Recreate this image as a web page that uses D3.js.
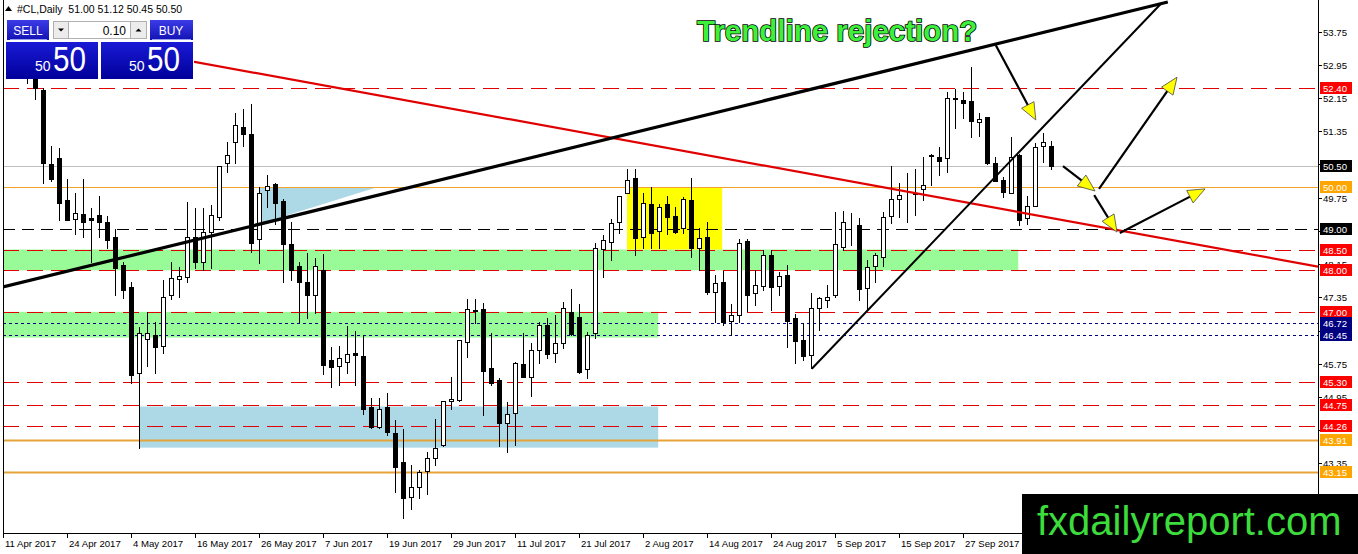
<!DOCTYPE html>
<html><head><meta charset="utf-8">
<script src="https://cdn.jsdelivr.net/npm/d3@7"></script>
<style>
html,body{margin:0;padding:0;background:#fff;overflow:hidden}
svg{display:block}
text{font-family:"Liberation Sans",Arial,sans-serif}
</style></head><body>
<svg id="c" width="1358" height="554"></svg>
<script>
// ---------- DATA ----------
const symbolHeader = "#CL,Daily  51.00 51.12 50.45 50.50";
const open  = [53.08,53.30,53.05,53.20,52.65,52.34,50.56,50.70,49.70,49.24,49.36,49.27,49.33,49.16,48.80,48.13,47.60,45.53,46.35,46.45,46.18,47.40,47.80,47.85,48.80,48.20,48.92,49.28,50.58,51.10,51.45,51.28,48.76,49.93,50.08,49.67,48.63,48.10,47.72,47.40,48.00,45.83,45.70,45.78,46.00,45.93,44.70,44.23,44.70,44.08,43.38,42.55,42.78,43.17,43.48,43.80,44.85,44.87,46.27,47.03,47.07,45.65,45.35,44.32,44.56,45.75,45.43,46.08,46.68,46.00,46.25,47.00,46.87,45.62,46.50,48.52,48.68,49.17,49.85,50.22,48.80,49.60,48.95,49.60,49.31,49.02,49.69,48.54,48.80,47.48,47.72,46.78,46.92,48.70,47.46,47.62,48.37,47.62,47.89,46.85,46.32,45.96,47.09,47.29,47.41,48.56,49.15,49.10,47.58,48.10,48.32,49.31,49.72,49.88,49.85,49.95,50.76,50.73,50.70,52.14,52.10,52.08,51.57,51.69,50.58,50.17,49.87,50.78,49.26,49.55,51.00,51.00];
const high  = [53.45,53.76,53.50,53.30,52.85,52.40,51.00,50.94,50.20,49.86,50.20,49.50,49.80,49.30,49.00,48.20,47.72,46.64,47.00,46.75,47.77,48.20,48.07,49.65,49.50,49.50,49.57,50.52,51.10,51.78,51.88,52.00,50.00,50.30,50.10,49.72,49.17,48.20,48.42,48.30,48.40,46.15,46.18,46.67,46.55,46.44,44.93,44.93,45.05,44.40,44.17,43.31,43.20,43.63,44.42,44.85,45.44,46.32,47.31,47.31,47.22,46.50,45.40,44.83,45.80,46.50,46.25,46.75,46.85,46.92,47.24,47.55,47.20,46.52,48.65,48.85,49.24,49.80,50.44,50.44,49.86,50.00,49.60,49.78,49.52,49.76,50.22,49.02,49.17,47.89,47.98,47.19,48.76,48.76,48.00,48.49,48.49,47.96,48.13,46.95,46.73,47.45,47.36,47.65,49.40,49.43,49.38,49.26,48.25,48.42,49.40,50.51,50.10,50.34,50.44,50.73,50.80,50.97,52.30,52.37,52.30,52.90,51.79,51.69,50.73,50.24,51.21,50.80,49.80,51.06,51.30,51.12];
const low   = [52.82,53.00,52.90,52.50,52.12,50.10,50.15,49.21,49.20,48.87,48.80,48.20,48.80,48.54,47.40,47.33,45.28,43.73,45.70,45.53,46.01,47.30,47.35,47.72,48.05,48.00,48.05,49.20,50.37,50.58,51.00,48.44,48.17,49.52,49.12,47.72,47.76,46.75,46.85,46.97,45.50,45.20,45.23,45.53,45.23,44.54,44.20,44.20,44.03,42.66,42.04,42.25,42.52,42.62,43.31,43.78,44.66,44.85,45.92,46.73,44.52,45.23,43.77,43.63,43.80,45.43,44.97,45.77,45.88,45.80,46.13,46.45,45.53,45.40,46.37,47.84,48.25,48.90,49.85,48.37,48.54,48.54,48.54,48.88,48.90,48.90,48.32,48.00,47.43,46.76,46.68,46.44,46.76,47.02,47.17,47.53,47.05,47.41,46.15,45.77,45.84,45.65,46.56,47.12,47.36,48.49,48.61,47.29,47.07,47.72,48.10,49.14,49.29,49.16,49.33,49.69,50.05,50.30,50.36,51.42,51.67,51.21,51.24,50.56,50.15,49.77,49.86,49.10,49.12,49.55,50.60,50.45];
const close = [53.40,53.11,53.18,52.65,52.40,50.58,50.20,49.62,49.20,49.38,49.16,49.22,49.16,48.73,48.05,47.53,45.48,46.49,46.49,46.15,47.36,47.82,47.86,48.80,48.20,48.93,49.33,50.51,50.78,51.50,51.28,48.66,49.85,50.03,49.62,48.63,48.00,47.72,47.40,48.10,45.72,45.67,45.90,45.98,45.95,44.66,44.23,44.66,44.10,43.27,42.52,42.78,43.15,43.48,43.72,44.85,44.90,46.32,47.07,47.05,45.58,45.28,44.32,44.54,45.77,45.43,46.08,46.68,45.98,46.25,47.09,46.47,45.55,46.45,48.53,48.72,49.14,49.79,50.17,48.78,49.62,48.90,49.53,49.28,48.92,49.72,48.54,48.78,47.48,47.70,46.76,46.92,48.66,47.41,47.65,48.37,47.60,47.87,46.78,46.30,45.93,47.09,47.33,47.36,48.64,49.17,49.13,47.55,48.08,48.37,49.29,49.72,49.82,49.89,49.84,50.05,50.78,50.63,52.15,52.12,52.03,51.60,51.64,50.58,50.15,49.89,50.73,49.20,49.56,50.97,51.10,50.50];

const dateLabels = ["11 Apr 2017","24 Apr 2017","4 May 2017","16 May 2017","26 May 2017","7 Jun 2017","19 Jun 2017","29 Jun 2017","11 Jul 2017","21 Jul 2017","2 Aug 2017","14 Aug 2017","24 Aug 2017","5 Sep 2017","15 Sep 2017","27 Sep 2017"];
const dateLabelBars = [0,8,16,24,32,40,48,56,64,72,80,88,96,104,112,120];
const priceTicks = [53.75,52.95,52.15,51.35,50.55,49.75,48.95,48.15,47.35,46.55,45.75,44.95,44.15,43.35,42.55];

const redLevels = [52.40,48.50,48.00,47.00,45.30,44.75,44.26];
const orangeLevels = [43.91,43.15];
const orangeThinLevel = [50.00];
const blackDashLevel = [49.00];
const navyLevels = [46.72,46.45];
const bidLevel = [50.50];

// zones: [barStart, barEnd, priceTop, priceBottom]
const greenZones = [[0,126.9,48.50,48.00],[0,81.9,47.00,46.38]];
const blueZone = [17,81.9,44.72,43.73];
const yellowZone = [78,89.9,50.00,48.50];
const blueTriangle = [[32.1,50.00],[46.75,50.00],[32.1,49.12]];

// trendlines: [bar, price] pairs
const thickTrend = [[0,47.60],[145.6,54.46]];
const thinTrend = [[101.1,45.63],[144.8,54.43]];
const redTrend = [[0,53.86],[164.375,48.09]];
const arrows = [
  [[124.1,53.42],[129.1,51.62]],
  [[132.5,50.51],[136.5,49.91]],
  [[137.0,49.96],[146.75,52.65]],
  [[136.4,49.81],[139.25,48.92]],
  [[139.6,48.90],[150.25,49.96]]
];
const annotation = "Trendline rejection?";
const watermark = "fxdailyreport.com";

// ---------- SCALES ----------
const svg = d3.select("#c");
const x = d3.scaleLinear().domain([0,164.375]).range([3,1318]);
const y = d3.scaleLinear().domain([41.6744,54.5085]).range([533,0]);
const L = 3, R = 1318, B = 533;

const defs = svg.append("defs");
defs.append("clipPath").attr("id","plot").append("rect").attr("x",L).attr("y",0).attr("width",R-L).attr("height",B);
function grad(id,c1,c2){
  const g = defs.append("linearGradient").attr("id",id).attr("x1",0).attr("y1",0).attr("x2",0).attr("y2",1);
  g.append("stop").attr("offset","0%").attr("stop-color",c1);
  g.append("stop").attr("offset","100%").attr("stop-color",c2);
}
grad("btn","#3c3ce8","#1212b4");
grad("big","#1a1ad6","#00009a");

svg.append("rect").attr("width",1358).attr("height",554).attr("fill","#fff");
const plot = svg.append("g").attr("clip-path","url(#plot)");

// zones
const zoneRect = (z,fill) => plot.append("rect")
  .attr("x",x(z[0])).attr("y",y(z[2]))
  .attr("width",x(z[1])-x(z[0])).attr("height",y(z[3])-y(z[2]))
  .attr("fill",fill);
greenZones.forEach(z=>zoneRect(z,"#98fb98"));
zoneRect(blueZone,"#add8e6");
zoneRect(yellowZone,"#ffff00");
plot.append("polygon").attr("points",blueTriangle.map(p=>[x(p[0]),y(p[1])].join(",")).join(" ")).attr("fill","#add8e6");

// levels
const hline = (v,stroke,w,dash) => plot.append("line")
  .attr("x1",L).attr("x2",R)
  .attr("y1",Math.round(y(v))+0.5).attr("y2",Math.round(y(v))+0.5)
  .attr("stroke",stroke).attr("stroke-width",w).attr("stroke-dasharray",dash||null);
bidLevel.forEach(v=>hline(v,"#c0c0c0",1));
orangeThinLevel.forEach(v=>hline(v,"#f0a428",1.2));
blackDashLevel.forEach(v=>hline(v,"#000",1,"12,7"));
redLevels.forEach(v=>hline(v,"#e00000",1,"16,8"));
navyLevels.forEach(v=>hline(v,"#000080",1,"3,3"));
orangeLevels.forEach(v=>hline(v,"#e6a33a",2));

// candles
const bars = d3.range(open.length);
const cg = plot.append("g");
bars.forEach(i=>{
  const xi = Math.round(x(i));
  const o=open[i],c=close[i],h=high[i],l=low[i];
  cg.append("line").attr("x1",xi+0.5).attr("x2",xi+0.5)
    .attr("y1",Math.round(y(h))).attr("y2",Math.round(y(l))+1)
    .attr("stroke","#000").attr("stroke-width",1);
  const top = Math.round(y(Math.max(o,c))), bot = Math.round(y(Math.min(o,c)));
  cg.append("rect").attr("x",xi-1.5).attr("y",top+0.5)
    .attr("width",4).attr("height",Math.max(0,bot-top))
    .attr("fill", c>=o ? "#fff" : "#000").attr("stroke","#000").attr("stroke-width",1);
});

// trendlines
const line = d3.line().x(d=>x(d[0])).y(d=>y(d[1]));
plot.append("path").attr("d",line(redTrend)).attr("stroke","#e00000").attr("stroke-width",2.2).attr("fill","none");
plot.append("path").attr("d",line(thickTrend)).attr("stroke","#000").attr("stroke-width",3.2).attr("fill","none");
plot.append("path").attr("d",line(thinTrend)).attr("stroke","#000").attr("stroke-width",2).attr("fill","none");

// arrows
arrows.forEach(a=>{
  const x1=x(a[0][0]),y1=y(a[0][1]),x2=x(a[1][0]),y2=y(a[1][1]);
  const dx=x2-x1,dy=y2-y1,len=Math.hypot(dx,dy),ux=dx/len,uy=dy/len,nx=-uy,ny=ux;
  const AL=17,AW=7;
  const bx=x2-ux*AL,by=y2-uy*AL;
  plot.append("line").attr("x1",x1).attr("y1",y1).attr("x2",bx+ux*4).attr("y2",by+uy*4)
    .attr("stroke","#000").attr("stroke-width",2.2);
  plot.append("polygon").attr("points",[[x2,y2],[bx+nx*AW,by+ny*AW],[bx-nx*AW,by-ny*AW]].map(p=>p.join(",")).join(" "))
    .attr("fill","#ffff00").attr("stroke","#444").attr("stroke-width",0.8);
});

// axes frame
svg.append("line").attr("x1",L+0.5).attr("x2",L+0.5).attr("y1",0).attr("y2",B+1).attr("stroke","#000");
svg.append("line").attr("x1",R+0.5).attr("x2",R+0.5).attr("y1",0).attr("y2",B+1).attr("stroke","#000");
svg.append("line").attr("x1",L).attr("x2",R+1).attr("y1",B+0.5).attr("y2",B+0.5).attr("stroke","#000");

// x axis labels
dateLabels.forEach((t,k)=>{
  const xx = Math.round(x(dateLabelBars[k]))+0.5;
  svg.append("line").attr("x1",xx).attr("x2",xx).attr("y1",B).attr("y2",B+5).attr("stroke","#000");
  svg.append("text").attr("x",xx+1.5).attr("y",547).attr("font-size","9.6px").attr("fill","#000").text(t);
});

// y axis labels (labels fully covered by a level tag are not visible in the chart)
const allTags = [].concat(redLevels,orangeThinLevel,orangeLevels,blackDashLevel,bidLevel,navyLevels);
priceTicks.forEach(v=>{
  const yy = Math.round(y(v))+0.5;
  svg.append("line").attr("x1",R).attr("x2",R+4).attr("y1",yy).attr("y2",yy).attr("stroke","#000");
  const covered = allTags.some(t=>Math.abs(y(t)-y(v))<5.2);
  if(!covered) svg.append("text").attr("x",1323).attr("y",yy+3.5).attr("font-size","9.6px").attr("fill","#000").text(v.toFixed(2));
});
function tag(v,bg){
  const yy = Math.round(y(v));
  svg.append("rect").attr("x",1320).attr("y",yy-6).attr("width",32).attr("height",12).attr("fill",bg);
  svg.append("text").attr("x",1323).attr("y",yy+4).attr("font-size","9.6px").attr("fill","#fff").text(v.toFixed(2));
}
redLevels.forEach(v=>tag(v,"#ff0000"));
orangeThinLevel.forEach(v=>tag(v,"#ffa500"));
orangeLevels.forEach(v=>tag(v,"#ffa500"));
blackDashLevel.forEach(v=>tag(v,"#000"));
bidLevel.forEach(v=>tag(v,"#000"));
navyLevels.forEach(v=>tag(v,"#000080"));

// annotation
svg.append("text").attr("x",697).attr("y",41).attr("font-size","29.5px").attr("font-weight","bold")
  .attr("fill","#3cf03c").attr("stroke","#000").attr("stroke-width",1.6).attr("paint-order","stroke")
  .text(annotation);

// watermark
svg.append("rect").attr("x",1022).attr("y",494).attr("width",336).attr("height",60).attr("fill","#000");
svg.append("text").attr("x",1037).attr("y",535).attr("font-size","40px").attr("fill","#3cdc3c").text(watermark);

// header
svg.append("path").attr("d","M5,11 L8.5,6 L12,11 Z").attr("fill","#000");
svg.append("text").attr("x",17).attr("y",13).attr("font-size","10.5px").attr("fill","#000").attr("xml:space","preserve").text(symbolHeader);

// trade panel
const p = svg.append("g");
p.append("rect").attr("x",4).attr("y",18).attr("width",190).attr("height",61).attr("fill","#fff");
p.append("rect").attr("x",7).attr("y",20).attr("width",42).attr("height",20).attr("fill","url(#btn)");
p.append("line").attr("x1",10).attr("x2",47).attr("y1",39.5).attr("y2",39.5).attr("stroke","#9aa0f0");
p.append("text").attr("x",28).attr("y",35).attr("text-anchor","middle").attr("font-size","12px").attr("fill","#fff").text("SELL");
p.append("rect").attr("x",53.5).attr("y",21.5).attr("width",15).attr("height",17).attr("fill","#ececec").attr("stroke","#b0b0b0");
p.append("path").attr("d","M58,28.5 L64,28.5 L61,31.5 Z").attr("fill","#000");
p.append("rect").attr("x",68.5).attr("y",21.5).attr("width",62).attr("height",17).attr("fill","#fff").attr("stroke","#b0b0b0");
p.append("text").attr("x",126).attr("y",34.5).attr("text-anchor","end").attr("font-size","12px").attr("fill","#000").text("0.10");
p.append("rect").attr("x",130.5).attr("y",21.5).attr("width",16).attr("height",17).attr("fill","#ececec").attr("stroke","#b0b0b0");
p.append("path").attr("d","M135.5,31.5 L141.5,31.5 L138.5,28.5 Z").attr("fill","#000");
p.append("rect").attr("x",150).attr("y",20).attr("width",43).attr("height",20).attr("fill","url(#btn)");
p.append("line").attr("x1",152).attr("x2",191).attr("y1",39.5).attr("y2",39.5).attr("stroke","#9aa0f0");
p.append("text").attr("x",171).attr("y",35).attr("text-anchor","middle").attr("font-size","12px").attr("fill","#fff").text("BUY");
[[6,98],[101,193]].forEach((b,k)=>{
  p.append("rect").attr("x",b[0]).attr("y",42).attr("width",b[1]-b[0]).attr("height",37).attr("fill","url(#big)");
  p.append("text").attr("x",b[0]+(k?28:29)).attr("y",71).attr("font-size","14px").attr("fill","#fff").text("50");
  p.append("text").attr("x",b[0]+(k?46:47)).attr("y",71).attr("font-size","35px").attr("fill","#fff")
    .attr("textLength",33).attr("lengthAdjust","spacingAndGlyphs").text("50");
});
</script>
</body></html>
